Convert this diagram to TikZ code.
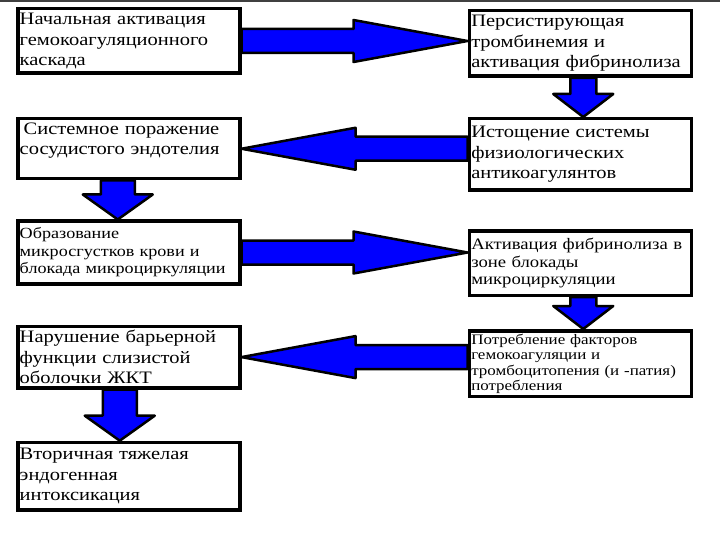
\documentclass[tikz,border=0pt]{standalone}
\usepackage{fontspec}
\setmainfont{Liberation Serif}[FakeStretch=1.17]
\usetikzlibrary{calc,positioning}
\definecolor{arrowblue}{RGB}{0,0,255}

\begin{document}
\begin{tikzpicture}[x=1pt,y=-1pt,
      box/.style={draw,line width=3.5pt,anchor=north west,align=left,
                  text width=218pt,inner xsep=2pt,inner ysep=4pt,
                  font=\fontsize{17.5}{20.5}\selectfont},
      mid/.style={font=\fontsize{15.5}{17.5}\selectfont},
      small/.style={font=\fontsize{14.5}{15.5}\selectfont,inner ysep=3pt},
      blockarrow/.style args={#1/#2/#3}{draw=black,line width=2.5pt,
                  line join=round,fill=arrowblue,
        to path={($(\tikztostart)!#1!90:(\tikztotarget)$)
          -- ($(\tikztotarget)!#3!(\tikztostart)!#1!90:(\tikztotarget)$)
          -- ($(\tikztotarget)!#3!(\tikztostart)!#2!90:(\tikztotarget)$)
          -- (\tikztotarget)
          -- ($(\tikztotarget)!#3!(\tikztostart)!#2!-90:(\tikztotarget)$)
          -- ($(\tikztotarget)!#3!(\tikztostart)!#1!-90:(\tikztotarget)$)
          -- ($(\tikztostart)!#1!-90:(\tikztotarget)$) -- cycle}},
      harrow/.style={blockarrow=12pt/21pt/114pt},
      varrow/.style={blockarrow=13pt/30pt/23pt},
      larrow/.style={blockarrow=17pt/35pt/25pt}]
    \useasboundingbox (0,0) rectangle (720,540);
    \fill[black!75] (0,0) rectangle (720,2);

    % left column
    \node[box,minimum height=64.5pt] (init) at (16,7)
      {Начальная активация\\гемокоагуляционного\\каскада};
    \node[box,below=42pt of init.south west,anchor=north west] (sys)
      {\parbox[t][52pt][t]{218pt}{\hspace{4pt}Системное поражение\\сосудистого эндотелия}};
    \node[box,mid,minimum height=62.5pt,below=39pt of sys.south west,anchor=north west] (micro)
      {Образование\\микросгустков крови и\\блокада микроциркуляции};
    \node[box,minimum height=60.5pt,below=39pt of micro.south west,anchor=north west] (barrier)
      {Нарушение барьерной\\функции слизистой\\оболочки ЖКТ};
    \node[box,minimum height=67.5pt,below=51pt of barrier.south west,anchor=north west] (second)
      {Вторичная тяжелая\\эндогенная\\интоксикация};

    % right column
    \node[box,minimum height=65.5pt,right=226pt of init.north east,anchor=north west,yshift=-2pt] (pers)
      {Персистирующая\\тромбинемия и\\активация фибринолиза};
    \node[box,minimum height=71.5pt,below=39pt of pers.south west,anchor=north west] (depl)
      {Истощение системы\\физиологических\\антикоагулянтов};
    \node[box,mid,font=\fontsize{16}{17.5}\selectfont,minimum height=64.5pt,below=37pt of depl.south west,anchor=north west] (fib)
      {Активация фибринолиза в\\зоне блокады\\микроциркуляции};
    \node[box,small,minimum height=62.5pt,below=32pt of fib.south west,anchor=north west] (cons)
      {Потребление факторов\\гемокоагуляции и\\\mbox{тромбоцитопения (и -патия)}\\потребления};

    % arrows
    \draw[harrow] (init.east) to (init.east -| pers.west);
    \draw[varrow] ([xshift=3pt]pers.south) to ([xshift=3pt]depl.north);
    \draw[harrow] (sys.east -| depl.west) to (sys.east);
    \draw[larrow] ([xshift=-11pt]sys.south) to ([xshift=-11pt]micro.north);
    \draw[harrow] (micro.east) to (micro.east -| fib.west);
    \draw[varrow] ([xshift=3pt]fib.south) to ([xshift=3pt]cons.north);
    \draw[harrow] (barrier.east -| cons.west) to (barrier.east);
    \draw[larrow] ([xshift=-9pt]barrier.south) to ([xshift=-9pt]second.north);
  \end{tikzpicture}
\end{document}
